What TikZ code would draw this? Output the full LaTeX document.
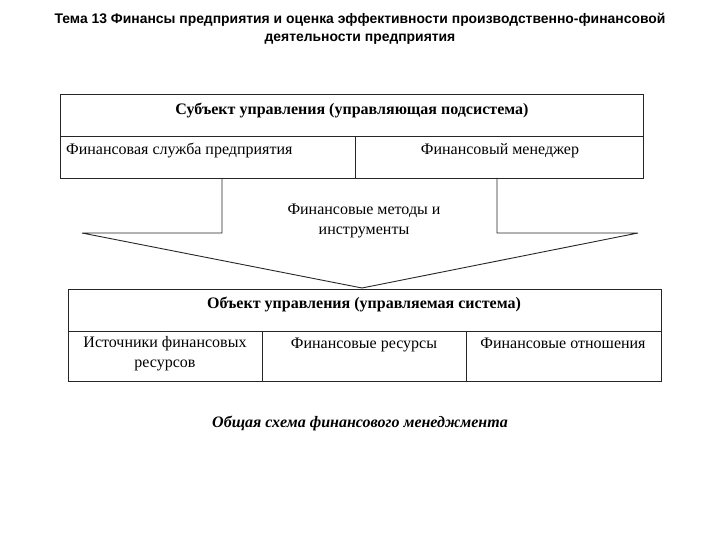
\documentclass[tikz,border=0pt]{standalone}
\usepackage{fontspec}
\setmainfont{Liberation Serif}
\newfontfamily\titlefont{Liberation Sans}
\begin{document}
\begin{tikzpicture}[x=1pt,y=-1pt,
  ln/.style={draw=black!85,line width=0.9pt},
  celltext/.style={font=\fontsize{16}{20}\selectfont,align=center,inner sep=0pt},
  headtext/.style={font=\bfseries\fontsize{16}{20}\selectfont,inner sep=0pt,anchor=base}]
\useasboundingbox (0,0) rectangle (720,540);
% title
\node[font=\titlefont\bfseries\fontsize{13.9}{18}\selectfont,align=center,inner sep=0pt] (title) at (360,29)
  {Тема 13 Финансы предприятия и оценка эффективности производственно-финансовой\\деятельности предприятия};
% top table
\coordinate (t1) at (60,94);
\coordinate (t2) at (643,178);
\draw[ln] (t1) rectangle (t2);
\draw[ln] (60,136) -- (643,136);
\draw[ln] (355,136) -- (355,178);
\node[headtext] (subj) at (352,115) {Субъект управления (управляющая подсистема)};
\node[celltext,anchor=base west] (fs) at (66,155) {Финансовая служба предприятия};
\node[celltext,anchor=base] (fm) at (500,155) {Финансовый менеджер};
% arrow shape
\coordinate (a1) at (222,178);
\coordinate (a2) at (222,233);
\coordinate (a3) at (82,233);
\coordinate (tip) at (362,288);
\coordinate (a4) at (638,233);
\coordinate (a5) at (497,233);
\coordinate (a6) at (497,178);
\draw[ln,line join=miter] (a1) -- (a2) -- (a3) -- (tip) -- (a4) -- (a5) -- (a6);
\node[celltext] (meth) at (364,221) {Финансовые методы и\\инструменты};
% bottom table
\draw[ln] (68,289) rectangle (661,381);
\draw[ln] (68,331) -- (661,331);
\draw[ln] (262,331) -- (262,381);
\draw[ln] (466,331) -- (466,381);
\node[headtext] (obj) at (364,308) {Объект управления (управляемая система)};
\node[celltext] (src) at (165,354) {Источники финансовых\\ресурсов};
\node[celltext,anchor=base] (res) at (364,348) {Финансовые ресурсы};
\node[celltext,anchor=base] (rel) at (563,348) {Финансовые отношения};
% caption
\node[font=\bfseries\itshape\fontsize{16}{20}\selectfont,inner sep=0pt,anchor=base] (cap) at (360,427) {Общая схема финансового менеджмента};
\end{tikzpicture}
\end{document}
